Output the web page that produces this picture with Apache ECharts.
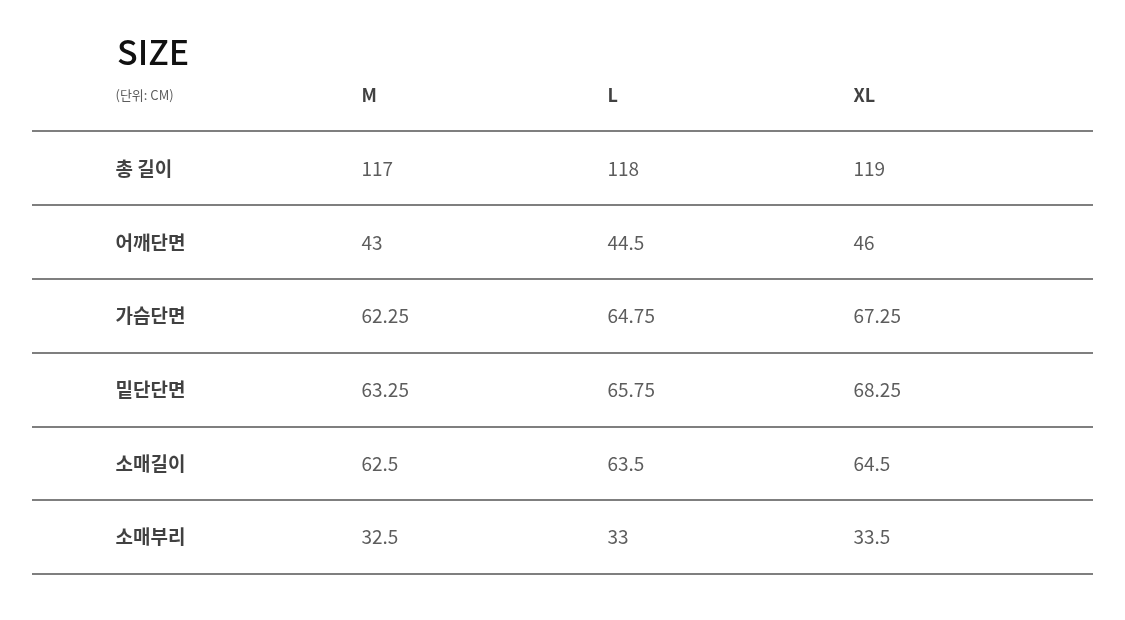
<!DOCTYPE html><html><head><meta charset="utf-8">
<script src="https://cdn.jsdelivr.net/npm/echarts@6/dist/echarts.min.js"></script>
<style>html,body{margin:0;background:#fff}#c{width:1125px;height:620px}</style></head><body><div id="c"></div>
<script>
const title = 'SIZE';
const unitLabel = '(단위: CM)';
const sizes = ['M','L','XL'];
const rowNames = ['총 길이','어깨단면','가슴단면','밑단단면','소매길이','소매부리'];
const valM  = ['117','43','62.25','63.25','62.5','32.5'];
const valL  = ['118','44.5','64.75','65.75','63.5','33'];
const valXL = ['119','46','67.25','68.25','64.5','33.5'];

(function(){
const F = '"Noto Sans CJK KR","Noto Sans",sans-serif';
const rowsCat = ['h'].concat(rowNames);
const cols = ['name'].concat(sizes);
const cells = [];
cells.push({value:[0,0,unitLabel], label:{fontSize:13, fontWeight:'normal', color:'#333'}});
sizes.forEach((s,i)=>cells.push({value:[i+1,0,s], label:{fontSize:18, fontWeight:'bold', color:'#111'}}));
rowNames.forEach((n,r)=>{
  cells.push({value:[0,r+1,n], label:{fontWeight:'bold', color:'#111'}});
  [valM,valL,valXL].forEach((arr,c)=>cells.push({value:[c+1,r+1,arr[r]]}));
});
const gTop=58, gH=516;
const chart = echarts.init(document.getElementById('c'));
chart.setOption({
  backgroundColor:'#fff',
  title:{text:title,left:112,top:30,textStyle:{fontFamily:F,fontSize:34,fontWeight:500,color:'#111'}},
  grid:[{left:32,width:1061,top:131,height:443},{left:115,width:738,top:gTop,height:gH}],
  xAxis:[
    {gridIndex:0,type:'value',show:false,min:0,max:1},
    {gridIndex:1,type:'category',data:cols,boundaryGap:false,show:false}
  ],
  yAxis:[
    {gridIndex:0,type:'category',data:rowNames,inverse:true,boundaryGap:true,
     axisLine:{show:false},axisTick:{show:false},axisLabel:{show:false},
     splitLine:{show:true,interval:0,lineStyle:{color:'#555',width:1.5}}},
    {gridIndex:1,type:'category',data:rowsCat,inverse:true,boundaryGap:true,show:false}
  ],
  series:[{
    type:'scatter',xAxisIndex:1,yAxisIndex:1,symbolSize:1,itemStyle:{color:'rgba(0,0,0,0)'},
    data:cells,silent:true,
    label:{show:true,position:'right',distance:0,fontFamily:F,fontSize:19,color:'#333',
      formatter:p=>p.value[2]}
  }]
});
})();
</script></body></html>
